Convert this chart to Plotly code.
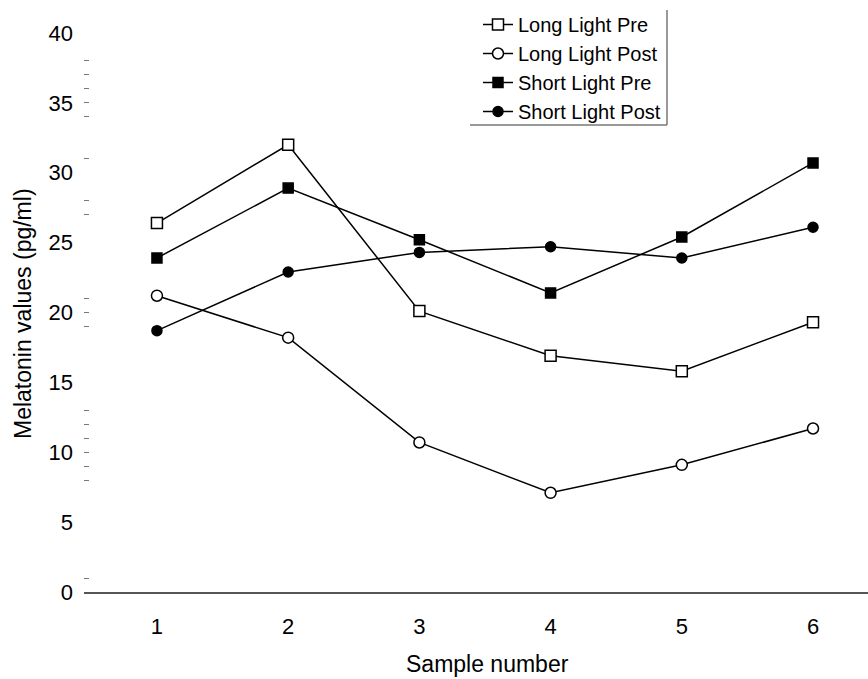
import plotly.graph_objects as go

samples = [1, 2, 3, 4, 5, 6]
long_light_pre = [26.4, 32.0, 20.1, 16.9, 15.8, 19.3]
long_light_post = [21.2, 18.2, 10.7, 7.1, 9.1, 11.7]
short_light_pre = [23.9, 28.9, 25.2, 21.4, 25.4, 30.7]
short_light_post = [18.7, 22.9, 24.3, 24.7, 23.9, 26.1]
series_names = ["Long Light Pre", "Long Light Post", "Short Light Pre", "Short Light Post"]
y_tick_vals = [0, 5, 10, 15, 20, 25, 30, 35, 40]
y_minor_vals = [1, 8, 9, 10, 11, 12, 13, 19, 20, 21, 27, 28, 31, 34, 35, 36, 37, 38]
x_title = "Sample number"
y_title = "Melatonin values (pg/ml)"

W, H = 868, 679
L, R, T, B = 84, 0, 19, 87
pw, ph = W - L - R, H - T - B

def px(x):
    return (x - L) / pw

def py(y):
    return (H - B - y) / ph

styles = [
    dict(symbol="square", size=11, color="white"),
    dict(symbol="circle", size=11, color="white"),
    dict(symbol="square", size=10, color="black"),
    dict(symbol="circle", size=10, color="black"),
]
data = [long_light_pre, long_light_post, short_light_pre, short_light_post]

fig = go.Figure()
for i, (name, vals, st) in enumerate(zip(series_names, data, styles)):
    fig.add_trace(go.Scatter(
        x=samples, y=vals, name=name, mode="lines+markers",
        legendgroup=f"g{i}",
        line=dict(color="black", width=1.5),
        marker=dict(symbol=st["symbol"], size=st["size"], color=st["color"],
                    line=dict(color="black", width=1.5)),
    ))

# legend shadow border (right and bottom)
fig.add_shape(type="line", xref="paper", yref="paper",
              x0=px(667), x1=px(667), y0=py(10), y1=py(125),
              line=dict(color="#777", width=1.5))
fig.add_shape(type="line", xref="paper", yref="paper",
              x0=px(470), x1=px(667), y0=py(125), y1=py(125),
              line=dict(color="#777", width=1.5))

# axis titles
fig.add_annotation(text=x_title, xref="paper", yref="paper",
                   x=px(487), y=py(664), xanchor="center", yanchor="middle",
                   showarrow=False, font=dict(size=23))
fig.add_annotation(text=y_title, xref="paper", yref="paper",
                   x=px(23), y=py(314), xanchor="center", yanchor="middle",
                   textangle=-90, showarrow=False, font=dict(size=23))

fig.update_layout(
    width=W, height=H,
    margin=dict(l=L, r=R, t=T, b=B),
    paper_bgcolor="white", plot_bgcolor="white",
    font=dict(family="Liberation Sans, Arial, sans-serif", color="black", size=22),
    showlegend=True,
    legend=dict(x=px(478), y=py(5), xanchor="left", yanchor="top",
                bgcolor="rgba(0,0,0,0)", borderwidth=0,
                font=dict(size=20), tracegroupgap=0, traceorder="grouped",
                itemwidth=30),
    xaxis=dict(range=[0.444, 6.419], tickvals=samples, ticks="",
               showgrid=False, zeroline=False, showline=True,
               linecolor="#555", linewidth=1.5,
               ticklabelstandoff=14),
    yaxis=dict(range=[0, 41], tickvals=y_tick_vals, ticks="",
               showgrid=False, zeroline=False, showline=False,
               ticklabelstandoff=10,
               minor=dict(tickvals=y_minor_vals, ticks="inside", ticklen=5,
                          tickcolor="#777", tickwidth=1, showgrid=False)),
)

fig.write_html("out.html")
